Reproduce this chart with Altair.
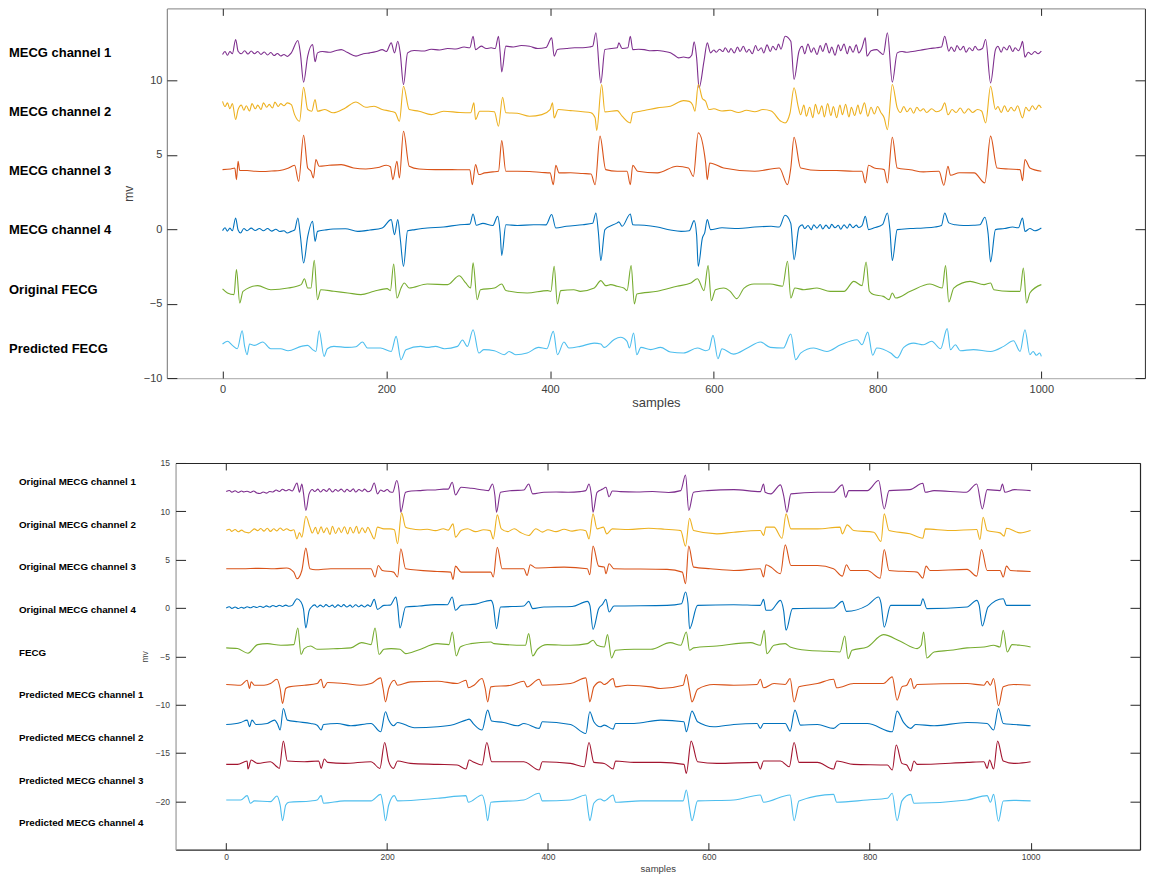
import altair as alt
import pandas as pd

# ---------------- top panel traces: (sample, mV) ----------------
TOP_MECG1 = [(0,11.75),(3,11.95),(6,11.7),(9,11.95),(12,11.8),(16,12.76),(19,11.97),(23,11.8),(27,12.0),(31,11.78),(35,11.98),(39,11.8),(43,11.95),(47,11.75),(51,11.92),(55,11.72),(59,11.88),(63,11.68),(67,11.82),(71,11.65),(75,11.75),(79,11.62),(84,11.86),(92,12.69),(95,11.86),(99,9.89),(104,11.64),(110,12.42),(113,11.26),(116,11.86),(122,11.95),(130,11.9),(138,12.0),(145,12.08),(152,11.9),(163,11.64),(172,11.8),(180,11.86),(188,11.95),(195,12.08),(200,11.95),(206,12.53),(210,11.86),(214,12.64),(217,11.86),(221,9.73),(226,11.86),(234,12.02),(245,11.98),(255,12.1),(265,12.05),(275,12.15),(285,12.12),(295,12.25),(302,12.2),(306,12.98),(309,12.08),(316,12.31),(322,12.15),(328,12.2),(333,12.15),(337,12.98),(339,11.9),(341,10.58),(346,12.31),(355,12.25),(365,12.35),(375,12.3),(385,12.15),(395,12.22),(402,12.87),(405,11.64),(409,12.08),(420,12.15),(430,12.2),(440,12.2),(448,12.25),(452,12.3),(456,13.21),(462,9.84),(467,12.08),(475,12.15),(482,12.2),(484,12.53),(488,12.15),(495,12.2),(498,12.98),(501,12.08),(508,12.1),(515,12.08),(523,12.0),(531,12.02),(540,11.95),(547,11.86),(552,11.7),(557,11.52),(563,11.58),(569,11.52),(573,11.7),(576,12.6),(579,11.52),(582,9.51),(588,11.3),(592,12.53),(596,11.86),(600,12.05),(603,11.9),(607,12.1),(611,11.95),(614,12.2),(618,11.9),(621,12.15),(625,11.85),(629,12.25),(632,11.95),(636,12.3),(640,11.9),(643,12.1),(647,11.8),(651,12.35),(654,12.0),(658,12.2),(661,11.85),(665,12.4),(669,11.95),(672,12.3),(676,12.05),(679,12.45),(682,12.1),(687,12.98),(694,12.64),(698,10.07),(704,11.97),(708,12.3),(711,11.8),(715,12.45),(719,11.9),(722,12.2),(726,11.75),(730,12.35),(733,11.95),(737,12.5),(741,11.85),(744,12.25),(748,11.7),(752,12.4),(755,12.0),(759,12.45),(763,11.8),(766,12.3),(770,11.9),(774,12.4),(777,11.85),(781,12.2),(785,12.87),(787,11.64),(792,12.0),(799,12.08),(803,11.9),(807,11.75),(812,13.21),(818,9.89),(824,11.86),(830,11.95),(835,11.9),(840,11.93),(848,12.0),(856,12.08),(864,12.15),(872,12.2),(878,12.25),(882,12.98),(887,11.97),(890,12.25),(894,11.95),(897,12.35),(901,12.05),(905,12.3),(908,11.9),(912,12.2),(916,12.0),(919,12.3),(923,12.05),(928,12.15),(932,12.76),(938,9.84),(944,12.08),(947,12.3),(951,11.9),(954,12.25),(958,12.05),(961,12.35),(965,11.95),(968,12.2),(972,12.0),(975,12.3),(977,12.64),(980,11.57),(984,11.9),(988,11.75),(992,11.95),(996,11.8),(1000,11.97)]

TOP_MECG2 = [(0,8.6),(3,8.25),(6,8.5),(9,8.1),(12,8.45),(16,7.38),(19,8.05),(23,8.35),(26,8.0),(29,8.3),(33,7.95),(36,8.45),(40,8.1),(43,8.35),(47,8.05),(50,8.5),(54,8.2),(57,8.4),(61,8.15),(64,8.55),(68,8.25),(71,8.45),(75,8.3),(79,8.5),(84,8.38),(88,7.71),(94,7.26),(99,9.55),(104,8.05),(109,7.94),(113,8.72),(116,7.94),(125,8.05),(135,7.83),(150,8.16),(163,8.56),(175,8.2),(185,8.27),(195,8.05),(205,7.94),(211,7.83),(216,7.26),(221,9.62),(228,8.05),(240,7.94),(255,7.71),(270,7.94),(290,7.85),(303,7.83),(307,8.5),(309,7.38),(314,7.94),(325,7.94),(332,7.9),(337,6.93),(342,8.88),(346,7.83),(360,7.8),(375,7.6),(390,7.71),(400,8.05),(403,8.5),(405,7.49),(410,8.05),(425,7.98),(440,7.9),(450,7.83),(455,7.5),(457,6.65),(463,9.73),(467,7.89),(482,7.98),(488,7.6),(498,7.15),(501,7.83),(515,7.98),(531,8.16),(547,8.27),(563,8.65),(570,8.6),(574,8.38),(577,7.94),(581,9.73),(586,8.79),(590,8.61),(594,8.05),(600,8.1),(610,7.95),(620,8.0),(630,7.85),(640,8.0),(650,7.9),(660,8.05),(670,7.95),(682,7.26),(687,7.15),(693,7.8),(698,9.51),(703,8.27),(706,7.7),(710,8.35),(713,7.6),(717,8.2),(721,7.5),(724,8.4),(728,7.75),(732,8.3),(735,7.55),(739,8.45),(743,7.65),(746,8.25),(750,7.5),(754,8.35),(757,7.7),(761,8.4),(765,7.55),(768,8.2),(772,7.65),(776,8.35),(779,7.75),(784,8.5),(788,7.6),(792,8.2),(796,7.75),(800,8.25),(804,7.85),(808,7.5),(812,6.7),(818,9.73),(824,8.16),(828,7.85),(832,8.25),(836,7.9),(840,8.15),(844,7.8),(848,8.2),(852,7.95),(856,8.1),(860,7.85),(866,8.1),(872,7.9),(878,8.05),(882,8.5),(886,7.7),(891,8.05),(896,7.85),(901,8.15),(906,7.8),(911,8.1),(916,7.85),(922,8.05),(927,7.95),(932,7.15),(938,9.62),(944,8.05),(947,8.25),(951,7.85),(955,8.3),(959,7.9),(963,8.2),(967,7.95),(971,8.3),(977,7.49),(981,8.2),(985,7.95),(989,8.3),(993,8.05),(997,8.35),(1000,8.15)]

TOP_MECG3 = [(0,4.01),(10,4.05),(15,4.12),(17,3.34),(19,4.57),(21,3.95),(30,3.95),(40,3.9),(50,3.88),(60,3.92),(70,3.95),(80,4.1),(88,4.3),(93,3.23),(99,6.32),(104,4.12),(108,3.9),(111,3.45),(114,4.69),(118,4.24),(130,4.3),(145,4.35),(160,4.12),(175,4.05),(190,4.15),(200,4.3),(205,4.2),(208,3.34),(213,4.57),(216,3.45),(221,6.59),(228,4.24),(240,4.05),(260,4.01),(280,4.01),(295,4.0),(302,4.0),(305,3.0),(309,4.35),(313,3.68),(320,3.79),(330,3.86),(337,3.9),(341,5.96),(346,3.9),(360,3.9),(375,3.88),(390,3.82),(400,3.79),(404,3.0),(407,4.3),(411,3.79),(425,3.8),(440,3.75),(450,3.72),(455,3.0),(461,6.26),(468,4.01),(482,3.9),(494,3.9),(498,3.0),(501,4.3),(507,3.9),(531,3.79),(555,4.24),(569,4.12),(575,3.56),(581,6.48),(590,4.46),(592,3.34),(595,4.46),(612,4.12),(650,3.9),(680,4.12),(690,3.0),(694,4.12),(698,6.19),(706,4.12),(730,3.95),(750,3.95),(770,3.9),(781,3.9),(785,3.12),(789,4.3),(796,4.12),(808,4.01),(812,3.12),(818,6.19),(824,4.12),(840,4.0),(856,3.86),(875,3.9),(881,2.96),(886,4.24),(889,3.63),(900,3.8),(918,3.79),(931,3.12),(938,6.26),(946,4.12),(960,4.05),(974,4.01),(977,3.27),(980,4.69),(986,4.12),(1000,3.9)]

TOP_MECG4 = [(0,-0.09),(3,0.1),(6,-0.12),(9,0.08),(12,-0.1),(16,0.76),(19,-0.05),(22,-0.25),(26,0.05),(30,-0.1),(35,0.08),(40,-0.08),(45,0.05),(50,-0.1),(55,0.05),(60,-0.12),(65,0.0),(70,-0.15),(75,-0.1),(79,-0.25),(84,-0.14),(88,-0.05),(92,0.76),(95,-0.4),(99,-2.27),(104,-0.5),(110,0.54),(113,-0.81),(116,-0.14),(125,-0.05),(135,0.02),(150,0.04),(165,-0.14),(180,-0.05),(195,0.09),(206,0.65),(210,-0.36),(214,0.65),(217,-0.6),(221,-2.49),(226,-0.1),(235,-0.02),(250,0.09),(270,0.15),(290,0.31),(302,0.35),(306,1.03),(310,0.27),(318,0.4),(330,0.25),(336,0.87),(339,-0.2),(341,-1.75),(346,0.31),(360,0.25),(380,0.31),(395,0.3),(402,0.99),(407,0.09),(420,0.2),(440,0.31),(452,0.4),(456,1.1),(459,-0.2),(462,-2.1),(467,-0.02),(482,0.43),(484,0.5),(488,0.2),(498,1.03),(501,0.31),(515,0.27),(531,0.15),(547,-0.05),(560,-0.14),(570,-0.1),(576,0.58),(579,-0.4),(581,-2.49),(586,-0.6),(589,-0.2),(592,0.65),(596,-0.02),(610,0.1),(630,0.05),(650,0.15),(670,0.2),(680,0.15),(687,0.94),(694,0.4),(698,-2.04),(704,0.13),(708,0.3),(711,0.05),(715,0.25),(719,-0.02),(722,0.3),(726,0.08),(730,0.32),(733,0.02),(737,0.28),(741,0.05),(744,0.33),(748,0.1),(752,0.27),(755,0.0),(759,0.3),(763,0.08),(766,0.35),(770,0.1),(774,0.28),(777,0.12),(781,0.25),(785,0.87),(789,-0.02),(796,0.1),(806,0.31),(812,1.1),(815,0.0),(818,-2.1),(824,-0.02),(840,0.05),(856,0.09),(870,0.15),(878,0.25),(882,1.1),(887,0.43),(895,0.3),(905,0.25),(917,0.27),(925,0.3),(931,0.81),(935,-0.3),(938,-2.19),(944,-0.02),(955,0.05),(965,0.15),(972,0.1),(977,0.76),(980,-0.14),(986,0.05),(992,-0.1),(1000,0.09)]

TOP_FECG = [(0,-4.01),(6,-4.28),(14,-4.39),(17,-2.71),(21,-4.95),(25,-4.17),(43,-3.79),(59,-4.06),(80,-3.95),(96,-3.72),(100,-3.32),(104,-3.95),(108,-3.95),(112,-2.08),(116,-4.73),(120,-4.06),(136,-4.17),(153,-4.28),(169,-4.39),(185,-4.17),(201,-3.99),(205,-4.12),(209,-2.33),(213,-4.62),(218,-3.95),(222,-3.61),(228,-3.95),(250,-3.68),(275,-3.72),(289,-3.12),(297,-3.61),(303,-3.95),(306,-2.26),(311,-4.73),(315,-4.06),(332,-3.95),(341,-3.68),(346,-4.12),(372,-4.28),(397,-4.12),(401,-4.17),(405,-2.49),(409,-5.02),(413,-4.12),(429,-4.06),(437,-4.17),(454,-3.95),(462,-3.45),(468,-3.79),(474,-3.72),(482,-3.83),(490,-3.95),(494,-4.12),(499,-2.44),(503,-5.02),(506,-4.35),(531,-4.17),(555,-3.83),(572,-3.61),(580,-3.32),(588,-4.12),(593,-2.44),(597,-4.8),(602,-4.06),(612,-3.95),(620,-4.17),(628,-4.66),(637,-3.95),(649,-3.68),(669,-3.68),(684,-3.83),(690,-2.15),(694,-4.62),(699,-3.95),(710,-4.06),(726,-3.95),(742,-4.17),(759,-4.17),(771,-3.5),(781,-3.79),(786,-2.2),(790,-4.17),(795,-4.39),(807,-4.51),(814,-4.73),(818,-4.28),(822,-4.62),(840,-4.17),(864,-3.68),(879,-3.95),(883,-2.44),(887,-4.89),(893,-3.95),(913,-3.5),(930,-3.72),(938,-3.61),(942,-4.06),(962,-4.17),(974,-4.17),(978,-2.6),(982,-4.95),(986,-4.28),(1000,-3.72)]

TOP_PRED = [(0,-7.71),(6,-7.53),(12,-7.8),(18,-8.03),(24,-6.82),(27,-7.87),(30,-8.43),(33,-7.71),(39,-7.8),(49,-7.58),(59,-8.03),(71,-8.03),(80,-8.16),(96,-7.87),(104,-7.8),(110,-8.09),(114,-8.21),(118,-6.82),(124,-8.54),(128,-8.03),(136,-7.87),(153,-7.94),(163,-7.89),(171,-7.58),(177,-7.98),(193,-7.98),(206,-8.21),(212,-7.2),(218,-8.77),(224,-8.09),(242,-7.87),(250,-7.94),(260,-7.87),(271,-8.03),(287,-7.87),(293,-7.44),(299,-7.87),(306,-6.75),(313,-8.32),(319,-8.09),(332,-8.16),(344,-8.43),(350,-8.21),(358,-8.43),(372,-8.32),(386,-7.94),(396,-8.03),(404,-6.86),(409,-8.43),(417,-7.58),(423,-7.98),(437,-7.87),(454,-7.65),(462,-7.71),(466,-7.94),(478,-7.42),(486,-7.26),(494,-7.53),(497,-7.98),(502,-6.97),(506,-8.43),(511,-7.94),(523,-8.09),(535,-7.94),(547,-8.25),(563,-8.32),(580,-7.98),(590,-8.16),(594,-8.09),(599,-7.13),(605,-8.7),(610,-8.03),(624,-8.39),(641,-7.98),(657,-7.58),(669,-7.94),(685,-7.98),(694,-7.04),(700,-8.77),(706,-8.32),(722,-7.98),(738,-8.21),(755,-7.76),(775,-7.42),(781,-7.76),(788,-6.91),(794,-8.47),(799,-7.98),(816,-8.32),(824,-8.65),(832,-7.94),(844,-7.65),(856,-7.76),(866,-7.53),(877,-8.03),(885,-6.68),(889,-8.09),(895,-7.76),(901,-8.16),(917,-8.09),(938,-8.21),(954,-7.87),(966,-7.49),(974,-8.21),(980,-6.75),(986,-8.43),(990,-8.21),(994,-8.47),(998,-8.32),(1000,-8.54)]

TOP_NAMES = ["MECG channel 1", "MECG channel 2", "MECG channel 3",
             "MECG channel 4", "Original FECG", "Predicted FECG"]
TOP_TRACES = [TOP_MECG1, TOP_MECG2, TOP_MECG3, TOP_MECG4, TOP_FECG, TOP_PRED]
TOP_COLORS = ["#7E2F8E", "#EDB120", "#D95319", "#0072BD", "#77AC30", "#4DBEEE"]
TOP_LABEL_Y = [11.86, 7.88, 3.9, -0.08, -4.06, -8.04]

# ---------------- bottom panel traces ----------------
BOT_MECG1 = [(0,12.04),(4,12.15),(7,11.98),(11,12.12),(15,11.95),(19,12.1),(22,12.0),(26,12.08),(30,11.95),(34,12.1),(38,11.9),(42,11.85),(46,12.0),(50,11.88),(54,12.05),(58,12.0),(62,12.2),(66,12.05),(70,12.28),(74,12.12),(78,12.25),(82,12.1),(88,12.93),(91,11.97),(94,12.83),(96,11.9),(99,10.08),(103,11.8),(107,12.25),(110,12.05),(114,12.3),(117,12.0),(121,12.25),(125,12.05),(128,12.35),(132,12.0),(136,12.25),(139,12.08),(143,12.3),(147,12.0),(150,12.28),(154,12.05),(158,12.32),(161,12.0),(165,12.25),(169,12.08),(172,12.3),(176,12.02),(180,12.2),(184,12.93),(188,11.8),(192,12.2),(196,12.05),(200,12.25),(204,12.0),(207,11.97),(212,13.18),(215,12.0),(217,9.91),(223,11.97),(230,12.1),(240,12.14),(250,12.2),(260,12.2),(270,12.3),(276,12.3),(281,13.0),(285,11.69),(292,12.49),(305,12.38),(320,12.2),(326,12.14),(331,12.83),(334,11.63),(336,9.91),(341,11.97),(355,12.14),(370,12.2),(376,12.83),(381,11.8),(395,11.97),(410,12.0),(425,11.97),(440,12.04),(447,12.14),(451,12.83),(454,11.63),(456,9.91),(461,11.97),(468,12.3),(472,12.49),(476,11.5),(480,12.1),(490,12.04),(510,12.0),(530,12.05),(550,11.95),(565,12.14),(571,13.76),(575,10.08),(581,11.97),(598,12.14),(631,12.24),(664,12.04),(668,12.83),(670,11.97),(677,11.8),(689,12.73),(693,11.63),(697,9.91),(702,11.8),(735,11.97),(755,11.97),(766,12.73),(770,11.45),(774,12.14),(797,12.14),(811,13.18),(818,10.25),(824,12.14),(850,12.24),(866,12.9),(869,11.97),(880,12.14),(920,11.97),(933,12.83),(940,10.25),(946,12.24),(962,12.14),(965,12.83),(968,11.97),(980,12.24),(1000,12.14)]

BOT_MECG2 = [(0,8.01),(4,8.15),(7,7.92),(11,8.12),(15,7.88),(19,8.05),(23,7.85),(28,7.77),(32,8.0),(35,8.18),(39,8.0),(43,8.22),(47,7.95),(51,8.25),(55,7.92),(59,8.2),(63,7.98),(67,8.28),(71,8.02),(75,8.2),(80,8.0),(84,8.1),(88,7.15),(91,7.8),(94,7.33),(99,9.49),(104,8.36),(107,7.75),(111,8.35),(114,7.65),(118,8.4),(121,7.8),(125,8.3),(129,7.6),(132,8.45),(136,7.7),(140,8.3),(143,7.8),(147,8.4),(151,7.65),(154,8.35),(158,7.75),(162,8.45),(165,7.7),(169,8.3),(173,7.8),(176,8.35),(180,7.75),(184,7.15),(188,8.36),(196,8.18),(204,8.18),(209,8.1),(213,6.64),(218,9.84),(223,8.36),(230,8.2),(240,8.1),(250,8.15),(260,8.0),(270,8.2),(276,8.05),(282,8.7),(285,7.33),(292,8.01),(300,8.2),(310,7.9),(320,8.1),(328,8.0),(332,7.15),(337,9.63),(342,8.18),(350,7.9),(358,8.2),(366,7.8),(376,7.5),(385,8.2),(393,7.85),(400,8.1),(410,7.9),(420,8.15),(430,7.95),(440,8.1),(447,8.0),(451,7.15),(456,9.73),(461,8.18),(469,8.36),(473,7.67),(480,8.18),(500,8.12),(525,8.25),(545,8.15),(565,8.0),(571,6.4),(576,9.28),(581,8.01),(610,7.67),(631,7.84),(664,8.01),(668,7.5),(671,8.36),(681,8.36),(691,7.22),(696,9.73),(702,8.18),(735,8.18),(763,8.36),(766,7.67),(772,8.6),(780,8.01),(805,7.84),(814,6.88),(818,9.73),(824,8.01),(850,7.67),(866,7.22),(869,8.18),(900,8.01),(933,8.12),(937,7.08),(941,9.39),(946,8.01),(962,7.77),(967,7.43),(970,8.25),(987,7.77),(1000,8.01)]

BOT_MECG3 = [(0,4.06),(20,4.06),(40,4.1),(60,4.06),(75,4.13),(84,3.71),(88,3.02),(94,3.88),(99,6.19),(104,4.06),(111,3.95),(130,4.06),(160,4.06),(180,4.06),(185,3.2),(189,4.4),(194,3.88),(208,3.71),(213,3.2),(217,6.12),(223,4.06),(262,3.78),(279,3.71),(282,2.95),(285,4.33),(292,3.71),(329,3.71),(332,3.2),(337,6.29),(343,4.06),(370,4.06),(374,3.37),(378,4.47),(385,4.13),(420,4.23),(449,4.06),(452,3.43),(456,6.4),(463,4.33),(470,4.23),(472,3.54),(476,4.57),(482,4.06),(548,3.99),(567,3.71),(571,2.51),(575,6.4),(581,4.23),(602,4.06),(631,3.88),(664,4.06),(668,3.2),(671,4.47),(677,4.23),(689,3.54),(695,6.53),(702,4.4),(735,4.4),(755,4.06),(766,3.3),(771,4.47),(776,3.88),(797,3.88),(813,3.09),(818,6.05),(824,3.88),(859,3.71),(866,3.09),(870,4.33),(875,3.88),(921,3.99),(933,3.3),(939,6.05),(946,3.88),(962,3.88),(966,3.2),(970,4.33),(975,3.88),(1000,3.78)]

BOT_MECG4 = [(0,0.0),(4,0.12),(7,-0.04),(11,0.1),(15,-0.06),(19,0.08),(22,-0.02),(26,0.12),(30,0.02),(34,0.15),(38,0.05),(42,0.18),(46,0.06),(50,0.22),(54,0.1),(58,0.26),(62,0.14),(66,0.28),(70,0.16),(74,0.3),(78,0.18),(82,0.27),(88,0.96),(93,0.62),(96,-0.1),(99,-2.07),(103,-0.3),(106,0.1),(110,0.32),(113,0.08),(117,0.3),(121,0.1),(124,0.35),(128,0.12),(132,0.3),(135,0.06),(139,0.32),(143,0.12),(146,0.35),(150,0.1),(154,0.3),(157,0.08),(161,0.33),(165,0.12),(168,0.3),(172,0.1),(176,0.32),(179,0.15),(184,0.89),(188,-0.14),(196,0.27),(204,0.3),(211,1.13),(213,0.3),(216,-2.07),(223,0.1),(240,0.2),(260,0.35),(275,0.34),(281,1.13),(285,-0.24),(292,0.27),(310,0.4),(329,0.79),(332,0.27),(336,-2.14),(341,0.1),(370,0.2),(376,0.68),(381,-0.07),(395,0.1),(430,0.15),(449,0.68),(452,0.3),(456,-2.21),(463,-0.07),(468,0.4),(472,0.89),(476,-0.42),(482,0.2),(548,0.27),(566,0.44),(571,1.65),(574,0.5),(576,-2.14),(586,0.27),(631,0.34),(664,0.27),(668,0.89),(671,-0.24),(677,-0.24),(689,0.79),(693,-0.3),(696,-2.31),(704,-0.07),(755,0.0),(766,0.68),(771,-0.35),(797,0.27),(811,1.13),(814,0.5),(818,-1.98),(826,0.27),(863,0.27),(866,0.96),(871,-0.07),(921,0.1),(933,0.79),(936,0.3),(940,-1.87),(947,0.1),(966,0.96),(970,0.27),(1000,0.27)]

BOT_FECG = [(0,-4.13),(14,-4.2),(27,-4.68),(39,-3.79),(51,-3.69),(68,-3.86),(84,-3.79),(89,-2.07),(93,-4.82),(97,-4.2),(105,-3.93),(113,-4.27),(138,-4.2),(155,-4.13),(168,-3.58),(180,-3.79),(185,-2.07),(190,-4.82),(196,-4.27),(205,-4.2),(216,-4.27),(223,-4.72),(238,-4.38),(262,-3.69),(277,-3.79),(281,-2.48),(286,-4.96),(291,-4.03),(304,-3.69),(329,-3.52),(333,-3.69),(372,-3.86),(376,-2.65),(381,-4.96),(387,-4.27),(399,-3.79),(428,-3.86),(449,-3.69),(456,-3.34),(461,-3.86),(470,-4.03),(474,-2.76),(479,-5.17),(484,-4.38),(507,-4.27),(528,-4.27),(552,-3.58),(565,-3.86),(572,-2.48),(576,-4.38),(581,-4.13),(610,-3.93),(652,-3.58),(664,-3.86),(669,-2.31),(672,-4.72),(681,-3.86),(695,-3.69),(701,-4.03),(722,-4.38),(747,-4.48),(763,-4.55),(769,-2.9),(773,-5.24),(778,-4.38),(797,-4.03),(817,-2.76),(838,-3.45),(859,-4.2),(864,-3.86),(867,-2.48),(871,-5.17),(880,-4.55),(900,-4.38),(921,-4.13),(942,-4.03),(954,-3.86),(962,-4.03),(966,-2.31),(971,-4.55),(977,-3.79),(987,-3.86),(1000,-4.03)]

PRED_MECG1 = [(0,-7.92),(18,-7.99),(26,-7.47),(29,-8.33),(31,-7.64),(35,-7.99),(47,-7.99),(55,-7.82),(63,-7.37),(67,-8.33),(70,-9.88),(74,-8.33),(78,-8.16),(97,-7.99),(113,-7.82),(118,-7.37),(121,-8.26),(126,-7.71),(147,-7.82),(167,-7.99),(180,-7.82),(192,-7.23),(195,-8.33),(198,-9.71),(202,-8.33),(209,-7.47),(213,-7.99),(229,-7.64),(263,-7.58),(287,-7.82),(298,-7.47),(301,-8.26),(308,-7.99),(318,-7.3),(322,-8.33),(325,-9.71),(329,-8.16),(354,-7.99),(370,-7.58),(374,-8.16),(389,-7.37),(393,-7.99),(428,-7.82),(447,-7.23),(450,-8.68),(452,-9.71),(457,-8.16),(465,-7.64),(470,-7.92),(481,-7.3),(484,-8.16),(499,-7.99),(528,-8.16),(540,-8.33),(568,-7.99),(572,-6.89),(576,-8.5),(579,-9.71),(586,-8.4),(606,-7.92),(631,-7.99),(660,-7.92),(664,-7.37),(668,-8.26),(681,-7.82),(695,-7.92),(701,-7.3),(706,-9.71),(712,-8.16),(735,-7.82),(755,-7.37),(759,-8.26),(780,-7.82),(817,-7.82),(828,-7.13),(834,-9.54),(840,-8.16),(846,-7.99),(851,-7.3),(855,-8.33),(859,-7.92),(921,-7.82),(942,-7.99),(946,-7.58),(950,-7.99),(954,-7.3),(960,-10.12),(966,-8.16),(979,-7.92),(1000,-7.99)]

PRED_MECG2 = [(0,-12.05),(18,-11.84),(26,-11.6),(29,-12.29),(32,-11.6),(37,-12.05),(51,-11.95),(60,-11.6),(64,-12.05),(67,-12.63),(71,-10.4),(76,-11.6),(89,-11.77),(105,-11.95),(113,-12.12),(118,-12.63),(121,-12.05),(138,-11.95),(155,-12.19),(180,-11.95),(192,-12.81),(198,-10.74),(202,-11.6),(208,-12.19),(213,-11.84),(234,-12.39),(263,-12.29),(283,-12.05),(298,-11.6),(302,-11.5),(308,-12.05),(318,-12.63),(325,-10.57),(330,-11.7),(345,-11.84),(362,-12.19),(370,-11.95),(389,-12.46),(393,-11.77),(428,-12.05),(447,-12.98),(452,-10.74),(457,-11.77),(465,-12.29),(470,-12.12),(481,-12.53),(484,-11.95),(507,-11.95),(540,-11.6),(569,-11.77),(572,-12.81),(579,-10.67),(586,-11.77),(606,-12.29),(631,-12.05),(660,-11.95),(664,-12.46),(668,-11.95),(695,-11.95),(701,-12.74),(707,-10.57),(714,-12.12),(735,-12.05),(755,-12.46),(764,-11.95),(797,-11.95),(828,-12.81),(834,-10.67),(842,-11.84),(851,-12.46),(857,-12.05),(880,-12.19),(921,-11.84),(946,-11.95),(954,-12.63),(960,-10.4),(966,-11.95),(979,-12.05),(1000,-12.19)]

PRED_MECG3 = [(0,-16.18),(14,-16.18),(26,-15.83),(27,-16.66),(31,-15.73),(39,-16.08),(55,-15.9),(63,-16.42),(66,-16.59),(71,-13.77),(76,-15.83),(97,-15.9),(115,-15.83),(118,-16.59),(122,-15.63),(126,-15.97),(147,-16.08),(180,-15.9),(191,-16.59),(197,-13.91),(202,-15.9),(208,-16.59),(213,-15.83),(229,-16.08),(263,-16.18),(287,-16.25),(298,-16.66),(302,-15.73),(308,-15.97),(318,-16.25),(324,-13.91),(330,-15.9),(370,-15.9),(389,-16.76),(393,-15.9),(428,-16.08),(445,-16.42),(451,-13.91),(457,-15.97),(470,-16.08),(481,-16.66),(484,-15.83),(507,-15.97),(540,-15.97),(569,-16.18),(572,-17.11),(578,-13.77),(586,-15.9),(610,-16.08),(660,-15.97),(664,-16.66),(668,-15.83),(689,-15.83),(700,-16.42),(706,-13.91),(712,-15.97),(735,-15.97),(755,-16.66),(759,-15.83),(780,-16.18),(822,-16.25),(828,-16.76),(833,-14.18),(840,-16.08),(846,-16.25),(851,-16.87),(855,-15.83),(859,-16.18),(921,-15.97),(942,-15.9),(946,-16.59),(949,-15.73),(954,-16.66),(959,-13.77),(966,-15.83),(979,-16.08),(1000,-15.9)]

PRED_MECG4 = [(0,-19.86),(18,-19.86),(26,-19.41),(30,-20.2),(35,-19.96),(55,-20.03),(63,-19.45),(67,-20.38),(70,-22.0),(74,-20.38),(78,-20.1),(105,-19.96),(113,-19.86),(118,-19.41),(121,-20.2),(147,-19.96),(180,-19.96),(192,-19.28),(195,-20.38),(198,-22.0),(202,-20.38),(209,-19.41),(213,-19.96),(263,-19.69),(298,-19.41),(301,-20.1),(318,-19.34),(322,-20.38),(325,-22.0),(329,-20.1),(370,-19.86),(389,-19.17),(393,-19.96),(428,-19.86),(447,-19.34),(450,-21.06),(452,-22.0),(457,-20.2),(465,-19.76),(470,-19.96),(481,-19.34),(484,-20.1),(515,-19.96),(568,-19.96),(572,-18.83),(576,-20.72),(579,-22.0),(586,-19.96),(631,-19.86),(664,-19.34),(668,-20.1),(701,-19.34),(706,-22.0),(712,-19.96),(755,-19.28),(759,-20.1),(797,-19.86),(822,-19.69),(828,-19.17),(834,-22.0),(840,-19.96),(851,-19.28),(855,-20.2),(921,-19.86),(946,-19.41),(950,-20.1),(954,-19.28),(960,-22.06),(966,-19.96),(979,-19.9),(1000,-19.96)]

BOT_NAMES = ["Original MECG channel 1", "Original MECG channel 2",
             "Original MECG channel 3", "Original MECG channel 4", "FECG",
             "Predicted MECG channel 1", "Predicted MECG channel 2",
             "Predicted MECG channel 3", "Predicted MECG channel 4"]
BOT_TRACES = [BOT_MECG1, BOT_MECG2, BOT_MECG3, BOT_MECG4, BOT_FECG,
              PRED_MECG1, PRED_MECG2, PRED_MECG3, PRED_MECG4]
BOT_COLORS = ["#7E2F8E", "#EDB120", "#D95319", "#0072BD", "#77AC30",
              "#D95319", "#0072BD", "#A2142F", "#4DBEEE"]
BOT_LABEL_Y = [13.04, 8.63, 4.21, -0.2, -4.62, -9.03, -13.45, -17.86, -22.28]

X_TICKS = [0, 200, 400, 600, 800, 1000]
TOP_Y_TICKS = [-10, -5, 0, 5, 10]
BOT_Y_TICKS = [-20, -15, -10, -5, 0, 5, 10, 15]

FONT = "Liberation Sans"


def to_frame(names, traces):
    rows = []
    for name, pts in zip(names, traces):
        for s, v in pts:
            rows.append({"sample": s, "mv": v, "trace": name})
    return pd.DataFrame(rows)


def panel(names, traces, colors, label_y, xdom, xrange, ydom, yticks, W, H,
          label_x, label_size, tick_font, title_font, left_shift,
          lab_pad_x, lab_pad_y, title_pad_x, title_pad_y, dom_colors):
    df = to_frame(names, traces)
    if xrange is None:
        xs = alt.Scale(domain=xdom, nice=False, zero=False)
    else:
        xs = alt.Scale(domain=xdom, range=xrange, nice=False, zero=False)
    ys = alt.Scale(domain=ydom, nice=False, zero=False)
    xt, yt = 7, 10
    base = alt.Chart(df)

    lines = base.mark_line(strokeWidth=1.1, interpolate="monotone").encode(
        x=alt.X("sample:Q", scale=xs, axis=alt.Axis(
            orient="bottom", values=X_TICKS, format="d", tickSize=xt,
            offset=-xt, domain=False, grid=False, tickColor="#262626",
            labelFont=FONT, labelFontSize=tick_font, labelColor="#404040",
            labelPadding=lab_pad_x, title="samples", titleFont=FONT,
            titleFontSize=title_font, titleFontWeight="normal",
            titleColor="#404040", titlePadding=title_pad_x)),
        y=alt.Y("mv:Q", scale=ys, axis=alt.Axis(
            orient="left", values=yticks, format="d", tickSize=yt,
            offset=-(yt + left_shift), domain=False, grid=False,
            tickColor="#262626", labelFont=FONT, labelFontSize=tick_font,
            labelColor="#404040", labelPadding=lab_pad_y, title="mv",
            titleFont=FONT, titleFontSize=title_font - 1,
            titleFontWeight="normal", titleColor="#404040",
            titlePadding=title_pad_y)),
        color=alt.Color("trace:N", scale=alt.Scale(domain=names, range=colors),
                        legend=None),
    )

    inv = base.mark_line(opacity=0)
    opp_ticks = inv.encode(
        x=alt.X("sample:Q", scale=xs, axis=alt.Axis(
            orient="top", values=X_TICKS, tickSize=xt, offset=-xt, domain=False,
            grid=False, labels=False, title=None, tickColor="#262626",
            minExtent=0, maxExtent=0)),
        y=alt.Y("mv:Q", scale=ys, axis=alt.Axis(
            orient="right", values=yticks, tickSize=yt, offset=-yt, domain=False,
            grid=False, labels=False, title=None, tickColor="#262626",
            minExtent=0, maxExtent=0)),
    )
    dom_lb = inv.encode(
        x=alt.X("sample:Q", scale=xs, axis=alt.Axis(
            orient="bottom", domain=True, ticks=False, labels=False, grid=False,
            title=None, domainColor=dom_colors[0], domainWidth=1.3,
            minExtent=0, maxExtent=0)),
        y=alt.Y("mv:Q", scale=ys, axis=alt.Axis(
            orient="left", domain=True, ticks=False, labels=False, grid=False,
            title=None, offset=-left_shift, domainColor=dom_colors[1],
            domainWidth=1.2, minExtent=0, maxExtent=0)),
    )
    dom_tr = inv.encode(
        x=alt.X("sample:Q", scale=xs, axis=alt.Axis(
            orient="top", domain=True, ticks=False, labels=False, grid=False,
            title=None, domainColor=dom_colors[2], domainWidth=1.2,
            minExtent=0, maxExtent=0)),
        y=alt.Y("mv:Q", scale=ys, axis=alt.Axis(
            orient="right", domain=True, ticks=False, labels=False, grid=False,
            title=None, domainColor=dom_colors[3], domainWidth=1.2,
            minExtent=0, maxExtent=0)),
    )

    lab_df = pd.DataFrame({"name": names, "ly": label_y})
    labels = alt.Chart(lab_df).mark_text(
        align="left", baseline="middle", font=FONT, fontWeight="bold",
        fontSize=label_size, color="#000000",
    ).encode(
        x=alt.value(label_x),
        y=alt.Y("ly:Q", scale=ys, axis=None),
        text="name:N",
    )

    return alt.layer(dom_lb, dom_tr, opp_ticks, lines, labels).resolve_axis(
        x="independent", y="independent"
    ).properties(width=W, height=H)


# total width must stay within the 1138px page body, so the top panel
# is 979px wide (same x scale as the figure: 0 -> 221.5px, 1000 -> 1041px)
top = panel(TOP_NAMES, TOP_TRACES, TOP_COLORS, TOP_LABEL_Y,
            xdom=[-68, 1126.6], xrange=None, ydom=[-10, 14.85],
            yticks=TOP_Y_TICKS, W=979, H=370, label_x=-158, label_size=13,
            tick_font=11, title_font=13, left_shift=0,
            lab_pad_x=5, lab_pad_y=5, title_pad_x=2, title_pad_y=8,
            dom_colors=["#b8b8b8", "#8a8a8a", "#9a9a9a", "#404040"])

bottom = panel(BOT_NAMES, BOT_TRACES, BOT_COLORS, BOT_LABEL_Y,
               xdom=[-63, 1136], xrange=[8.7, 974], ydom=[-25, 15],
               yticks=BOT_Y_TICKS, W=974, H=387, label_x=-148, label_size=9.8,
               tick_font=8.5, title_font=9.5, left_shift=8.7,
               lab_pad_x=3, lab_pad_y=6, title_pad_x=2, title_pad_y=6,
               dom_colors=["#262626", "#9a9a9a", "#262626", "#262626"])

chart = alt.vconcat(top, bottom, spacing=48).resolve_scale(
    color="independent"
).properties(
    padding={"left": 0, "top": -1, "right": 0, "bottom": 0}
).configure_view(stroke="transparent")

chart.save("out.html", embed_options={"renderer": "svg", "actions": False})
